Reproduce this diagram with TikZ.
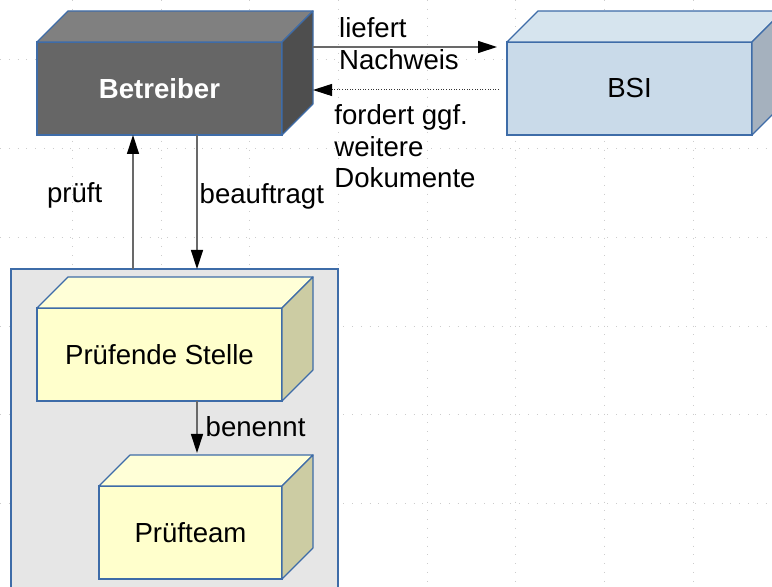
\documentclass[tikz,border=0pt]{standalone}
\usepackage{fontspec}
\setmainfont{Liberation Sans}
\usetikzlibrary{arrows.meta,positioning}
\definecolor{bxline}{RGB}{62,108,168}
\definecolor{darkfront}{RGB}{102,102,102}
\definecolor{darktop}{RGB}{128,128,128}
\definecolor{darkside}{RGB}{78,78,78}
\definecolor{bsifront}{RGB}{201,218,233}
\definecolor{bsitop}{RGB}{214,228,238}
\definecolor{bsiside}{RGB}{165,177,190}
\definecolor{ylwfront}{RGB}{255,255,204}
\definecolor{ylwtop}{RGB}{255,255,215}
\definecolor{ylwside}{RGB}{204,204,163}
\definecolor{framefill}{RGB}{230,230,230}
\definecolor{arrgray}{RGB}{105,105,105}
\tikzset{
  bxfront/.style={draw=bxline, line width=0.6pt, outer sep=0pt, align=center,
    minimum width=122.5pt, minimum height=46.5pt, font=\fontsize{13.8}{15.8}\selectfont},
  bxdark/.style={bxfront, fill=darkfront, text=white, font=\fontsize{13.8}{15.8}\selectfont\bfseries},
  bxblue/.style={bxfront, fill=bsifront},
  bxyellow/.style={bxfront, fill=ylwfront},
  bxface/.style={draw=bxline, line width=0.6pt, line join=round},
  frame/.style={draw=bxline, fill=framefill, line width=0.6pt, outer sep=0pt,
    minimum width=163.5pt, minimum height=170pt, anchor=north west},
  arr/.style={-{Triangle[length=9.5pt,width=6pt,color=black]}, arrgray, line width=0.7pt},
  dotarr/.style={-{Triangle[length=9.5pt,width=6pt,color=black]}, black!80, line width=0.5pt,
    dash pattern=on 0.5pt off 0.8pt},
  lbl/.style={inner sep=0pt, align=left, text=black, font=\fontsize{13.8}{15.8}\selectfont},
  gridline/.style={black!20, line width=0.5pt, dash pattern=on 0.5pt off 3.9pt}
}

\begin{document}
\begin{tikzpicture}[x=0.5pt,y=-0.5pt]
  \useasboundingbox (0,0) rectangle (772,587);
  \fill[white] (0,0) rectangle (772,587);
  % grid
  \foreach \gx in {0,...,8}
    \draw[gridline] ({72.6+88.67*\gx},0) -- ++(0,587);
  \foreach \gy in {0,...,6}
    \draw[gridline] (0,{60+88.67*\gy}) -- ++(772,0);

  \node[bxdark] (betreiber) at (159.5,88.5) {Betreiber};
  \node[bxblue,right=112.5pt of betreiber] (bsi) {BSI};
  \node[frame] (pruefung) at (11,269) {};
  \node[bxyellow,below=86.5pt of betreiber] (stelle) {Prüfende Stelle};
  \node[bxyellow,below=42.5pt of stelle.south east,anchor=north east,minimum width=91.5pt] (team) {Prüfteam};

  % top and side faces
  \foreach \n/\tp/\sd in {betreiber/darktop/darkside, bsi/bsitop/bsiside, stelle/ylwtop/ylwside, team/ylwtop/ylwside}{
    \draw[bxface,fill=\tp] (\n.north west) -- ++(31,-31) -- ([shift={(31,-31)}]\n.north east) -- (\n.north east) -- cycle;
    \draw[bxface,fill=\sd] (\n.north east) -- ++(31,-31) -- ([shift={(31,-31)}]\n.south east) -- (\n.south east) -- cycle;
  }

  \draw[arr] ([xshift=15.5pt,yshift=-2.5pt]betreiber.north east) -- ([xshift=-5pt,yshift=-2.5pt]bsi.north west)
    node[lbl,midway,xshift=-3pt,yshift=1.75pt] (l liefert) {liefert\\Nachweis};
  \draw[dotarr] ([xshift=-4pt,yshift=-0.75pt]bsi.west) -- ([xshift=15.5pt,yshift=-0.75pt]betreiber.east)
    node[lbl,midway,below=7pt,xshift=-0.5pt] (l fordert) {fordert ggf.\\weitere\\Dokumente};
  \draw[arr] ([xshift=48pt]betreiber.south west |- pruefung.north) -- ([xshift=48pt]betreiber.south west)
    node[lbl,midway,left=15pt,yshift=3.5pt] (l prueft) {prüft};
  \draw[arr] ([xshift=80pt]betreiber.south west) -- ([xshift=80pt]betreiber.south west |- pruefung.north)
    node[lbl,midway,right=1pt,yshift=3pt] (l beauftragt) {beauftragt};
  \draw[arr] ([xshift=80pt]stelle.south west) -- ([xshift=80pt,yshift=16.5pt]stelle.south west |- team.north)
    node[lbl,midway,right=4pt] (l benennt) {benennt};
\end{tikzpicture}
\end{document}
